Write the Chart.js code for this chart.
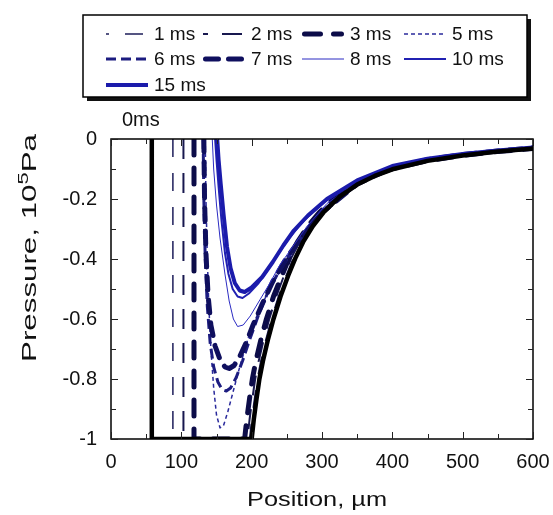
<!DOCTYPE html>
<html><head><meta charset="utf-8">
<script src="https://cdn.jsdelivr.net/npm/chart.js@4"></script>
<style>html,body{margin:0;padding:0;background:#fff}#wrap{width:553px;height:515px}</style>
</head><body><div id="wrap"><canvas id="c" width="553" height="515"></canvas></div>
<script>
// ---- data ----
const xTicks = [0, 100, 200, 300, 400, 500, 600];
const xTickLabels = ['0', '100', '200', '300', '400', '500', '600'];
const yTicks = [0, -0.2, -0.4, -0.6, -0.8, -1];
const yTickLabels = ['0', '-0.2', '-0.4', '-0.6', '-0.8', '-1'];
const seriesLabels = ['0ms', '1 ms', '2 ms', '3 ms', '5 ms', '6 ms', '7 ms', '8 ms', '10 ms', '15 ms'];

const pos0 = [58,58,200,203,207,211,216,223,231,241,252,262,273,287,302,325,350,375,400,450,500,550,600];
const p0   = [0,-1,-1,-0.935,-0.865,-0.8,-0.74,-0.67,-0.6,-0.525,-0.455,-0.398,-0.344,-0.29,-0.245,-0.192,-0.152,-0.123,-0.101,-0.073,-0.055,-0.042,-0.032];
const pos1 = [88,88,197,200,204,208,213,220,228,238,249,259,270,284,300,323,348,374,399,449,500,550,600];
const p1   = [0,-1,-1,-0.935,-0.865,-0.8,-0.74,-0.67,-0.6,-0.525,-0.455,-0.398,-0.344,-0.29,-0.245,-0.192,-0.152,-0.123,-0.101,-0.073,-0.055,-0.042,-0.032];
const pos2 = [103,103,194,197,201,205,210,217,225,235,246,256,268,282,298,322,347,373,398,449,499,550,600];
const p2   = [0,-1,-1,-0.935,-0.865,-0.8,-0.74,-0.67,-0.6,-0.525,-0.455,-0.398,-0.344,-0.29,-0.245,-0.192,-0.152,-0.123,-0.101,-0.073,-0.055,-0.042,-0.032];
const pos3 = [118,118,190,193,197,201,206,213,221,231,243,253,265,280,296,320,346,372,397,448,498,549,600];
const p3   = [0,-1,-1,-0.935,-0.865,-0.8,-0.74,-0.67,-0.6,-0.525,-0.455,-0.398,-0.344,-0.29,-0.245,-0.192,-0.152,-0.123,-0.101,-0.073,-0.055,-0.042,-0.032];
const pos5 = [134,135,137,139,142,146,150,155,160,166,175,183,198,215,230,250,275,300,350,400,450,500,550,600];
const p5   = [0,-0.2,-0.4,-0.55,-0.7,-0.83,-0.92,-0.963,-0.955,-0.91,-0.83,-0.76,-0.64,-0.55,-0.48,-0.405,-0.325,-0.25,-0.152,-0.097,-0.07,-0.053,-0.04,-0.03];
const pos6 = [131,132,134,137,141,146,152,158,164,170,178,187,197,210,225,245,270,300,350,400,450,500,550,600];
const p6   = [0,-0.2,-0.4,-0.56,-0.68,-0.76,-0.81,-0.835,-0.84,-0.83,-0.795,-0.74,-0.67,-0.585,-0.5,-0.415,-0.33,-0.248,-0.151,-0.096,-0.07,-0.053,-0.04,-0.03];
const pos7 = [132,133,135,138,142,148,155,162,168,175,183,192,202,215,230,250,275,300,350,400,450,500,550,600];
const p7   = [0,-0.2,-0.38,-0.52,-0.62,-0.69,-0.735,-0.76,-0.765,-0.755,-0.725,-0.68,-0.62,-0.55,-0.475,-0.395,-0.315,-0.245,-0.15,-0.095,-0.069,-0.052,-0.04,-0.03];
const pos8 = [144,146,150,155,162,168,174,180,188,198,212,226,240,255,279,307,350,400,450,500,550,600];
const p8   = [0,-0.1,-0.22,-0.33,-0.45,-0.54,-0.6,-0.625,-0.62,-0.59,-0.535,-0.48,-0.42,-0.37,-0.29,-0.215,-0.145,-0.092,-0.067,-0.051,-0.039,-0.029];
const pos10 = [148,150,153,157,162,167,173,180,187,196,210,225,240,255,275,305,350,400,450,500,550,600];
const p10   = [0,-0.07,-0.16,-0.27,-0.38,-0.45,-0.5,-0.525,-0.53,-0.515,-0.48,-0.43,-0.375,-0.325,-0.27,-0.207,-0.14,-0.091,-0.067,-0.05,-0.038,-0.028];
const pos15 = [151,153,156,160,165,170,176,183,190,200,215,230,245,260,280,307,350,400,450,500,550,600];
const p15   = [0,-0.07,-0.15,-0.25,-0.36,-0.43,-0.48,-0.505,-0.51,-0.495,-0.46,-0.41,-0.355,-0.305,-0.255,-0.2,-0.138,-0.09,-0.066,-0.05,-0.038,-0.028];

const posList = [pos0, pos1, pos2, pos3, pos5, pos6, pos7, pos8, pos10, pos15];
const pList = [p0, p1, p2, p3, p5, p6, p7, p8, p10, p15];

// ---- styles ----
const styles = [
  {c:'#000000', w:4.5, d:[], o:0, cap:'butt', ord:0},
  {c:'#1e1e5a', w:1.5, d:[18,16], o:15, cap:'butt', ord:9},
  {c:'#18184f', w:2, d:[20,14], o:15, cap:'butt', ord:8},
  {c:'#0c0c48', w:5, d:[16,13], o:0, cap:'round', ord:7},
  {c:'#2a2a9c', w:1.5, d:[4,3], o:0, cap:'butt', ord:6},
  {c:'#1c1c80', w:3, d:[10,5], o:0, cap:'butt', ord:5},
  {c:'#0f0f5e', w:5, d:[13,10], o:0, cap:'round', ord:4},
  {c:'#2b2bc2', w:1, d:[], o:0, cap:'butt', ord:3},
  {c:'#2121b2', w:2, d:[], o:0, cap:'butt', ord:2},
  {c:'#1b1bab', w:4, d:[], o:0, cap:'butt', ord:1}
];
const FONT = "'Liberation Sans', Arial, sans-serif";

const datasets = seriesLabels.map((lab, i) => ({
  label: lab,
  data: posList[i].map((x, k) => ({x: x, y: pList[i][k]})),
  borderColor: styles[i].c,
  borderWidth: styles[i].w,
  borderDash: styles[i].d,
  borderDashOffset: 0,
  borderCapStyle: styles[i].cap,
  borderJoinStyle: 'round',
  pointRadius: 0,
  tension: 0,
  fill: false,
  order: styles[i].ord
}));

const deco = {
  id: 'deco',
  afterDraw(chart) {
    const ctx = chart.ctx, a = chart.chartArea, xs = chart.scales.x, ys = chart.scales.y;
    ctx.save();
    // frame
    ctx.strokeStyle = '#000'; ctx.lineWidth = 1.5;
    ctx.strokeRect(a.left, a.top, a.right - a.left, a.bottom - a.top);
    // tick marks (inward, all four sides)
    ctx.lineWidth = 1; ctx.strokeStyle = '#222';
    ctx.beginPath();
    for (let k = 0; k < xTicks.length * 2 - 1; k++) {
      const v = xTicks[0] + k * (xTicks[1] - xTicks[0]) / 2;
      const px = Math.round(xs.getPixelForValue(v)) + 0.5;
      const L = k % 2 === 0 ? 7 : 5;
      ctx.moveTo(px, a.bottom); ctx.lineTo(px, a.bottom - L);
      ctx.moveTo(px, a.top); ctx.lineTo(px, a.top + L);
    }
    for (let k = 0; k < yTicks.length * 2 - 1; k++) {
      const v = yTicks[0] + k * (yTicks[1] - yTicks[0]) / 2;
      const py = Math.round(ys.getPixelForValue(v)) + 0.5;
      const L = k % 2 === 0 ? 7 : 5;
      ctx.moveTo(a.left, py); ctx.lineTo(a.left + L, py);
      ctx.moveTo(a.right, py); ctx.lineTo(a.right - L, py);
    }
    ctx.stroke();

    // axis titles (stretched text)
    ctx.fillStyle = '#111';
    ctx.font = '20px ' + FONT;
    ctx.textBaseline = 'alphabetic';
    const xt = 'Position, \u00b5m';
    const xw = ctx.measureText(xt).width;
    const sx = 140 / xw;
    ctx.save();
    ctx.translate(317, 506);
    ctx.scale(sx, 1);
    ctx.textAlign = 'center';
    ctx.fillText(xt, 0, 0);
    ctx.restore();

    // y title with superscript
    const t1 = 'Pressure, 10', t2 = '5', t3 = 'Pa';
    ctx.font = '20px ' + FONT;
    const w1 = ctx.measureText(t1).width, w3 = ctx.measureText(t3).width;
    ctx.font = '14px ' + FONT;
    const w2 = ctx.measureText(t2).width;
    const tot = w1 + w2 + w3;
    const sy = 228 / tot;
    ctx.save();
    ctx.translate(36, 248);
    ctx.rotate(-Math.PI / 2);
    ctx.scale(sy, 1);
    ctx.textAlign = 'left';
    let cx = -tot / 2;
    ctx.font = '20px ' + FONT; ctx.fillText(t1, cx, 0); cx += w1;
    ctx.font = '14px ' + FONT; ctx.fillText(t2, cx, -8); cx += w2;
    ctx.font = '20px ' + FONT; ctx.fillText(t3, cx, 0);
    ctx.restore();

    // 0ms label
    ctx.font = '20px ' + FONT;
    ctx.textAlign = 'left';
    ctx.fillText(seriesLabels[0], 122, 126);

    // legend box
    const bx = 83, by = 15, bw = 444, bh = 82;
    ctx.fillStyle = '#111';
    ctx.fillRect(bx + 4, by + 4, bw, bh);
    ctx.fillStyle = '#fff';
    ctx.fillRect(bx, by, bw, bh);
    ctx.strokeStyle = '#000'; ctx.lineWidth = 1.5;
    ctx.strokeRect(bx, by, bw, bh);

    const colS = [106, 203, 302, 404];
    const rowY = [34, 59, 85];
    ctx.font = '19px ' + FONT;
    ctx.textBaseline = 'middle';
    for (let i = 1; i < datasets.length; i++) {
      const j = i - 1, r = Math.floor(j / 4), c = j % 4;
      const d = chart.data.datasets[i];
      const x0 = colS[c], yy = rowY[r];
      ctx.save();
      ctx.beginPath();
      ctx.strokeStyle = d.borderColor;
      ctx.lineWidth = d.borderWidth;
      ctx.setLineDash(d.borderDash);
      ctx.lineDashOffset = styles[i].o;
      ctx.lineCap = d.borderCapStyle;
      const capPad = d.borderCapStyle === 'round' ? d.borderWidth / 2 : 0;
      ctx.moveTo(x0 + capPad, yy); ctx.lineTo(x0 + 42 - capPad, yy);
      ctx.stroke();
      ctx.restore();
      ctx.fillStyle = '#111';
      ctx.fillText(d.label, x0 + 48, yy + 1);
    }
    ctx.restore();
  }
};

new Chart(document.getElementById('c'), {
  type: 'line',
  data: { datasets: datasets },
  options: {
    responsive: false,
    animation: false,
    devicePixelRatio: 1,
    layout: { padding: { left: 0, top: 139, right: 20, bottom: 0 } },
    plugins: { legend: { display: false }, tooltip: { enabled: false } },
    scales: {
      x: {
        type: 'linear', min: 0, max: 600,
        afterBuildTicks: s => { s.ticks = xTicks.map(v => ({value: v})); },
        afterFit: s => { s.height = 76; s.paddingLeft = 0; s.paddingRight = 0; },
        ticks: { callback: (v, i) => xTickLabels[i], font: {family: FONT, size: 20}, color: '#111', padding: 11, maxRotation: 0, autoSkip: false },
        grid: { display: false, drawTicks: false },
        border: { display: false }
      },
      y: {
        type: 'linear', min: -1, max: 0,
        afterBuildTicks: s => { s.ticks = yTicks.map(v => ({value: v})); },
        afterFit: s => { s.width = 111; s.paddingTop = 0; s.paddingBottom = 0; },
        ticks: { callback: (v, i) => yTickLabels[i], font: {family: FONT, size: 20}, color: '#111', padding: 14, autoSkip: false },
        grid: { display: false, drawTicks: false },
        border: { display: false }
      }
    }
  },
  plugins: [deco]
});
</script>
</body></html>
